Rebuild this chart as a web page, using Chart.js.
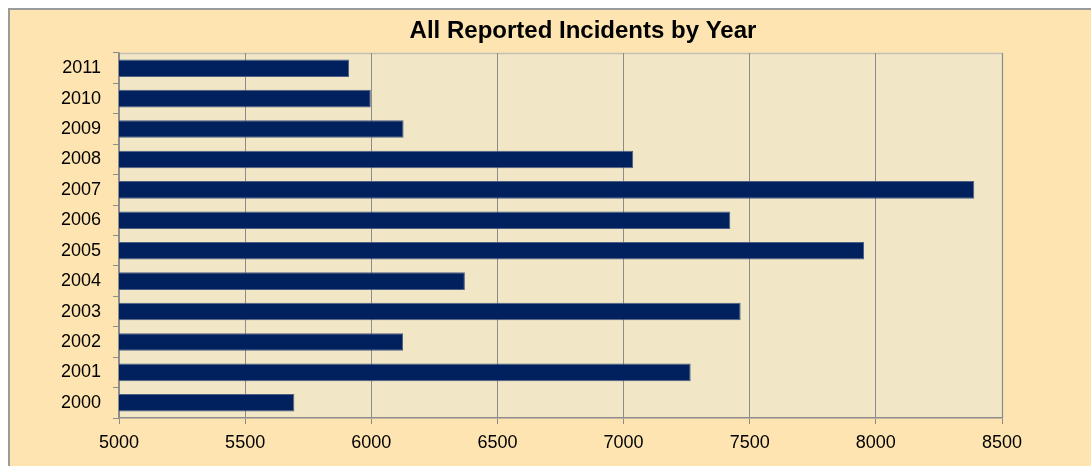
<!DOCTYPE html>
<html>
<head>
<meta charset="utf-8">
<script src="https://cdn.jsdelivr.net/npm/chart.js@4/dist/chart.umd.min.js"></script>
<style>
  html, body { margin: 0; padding: 0; background: #ffffff; overflow: hidden; width: 1091px; height: 466px; }
  #wrap { position: absolute; left: 8px; top: 8px; width: 1148px; height: 470px;
          border-left: 2px solid #9a9a9a; border-top: 2px solid #9a9a9a; background: #FEE4B0; }
  #c { display: block; }
</style>
</head>
<body>
<div id="wrap"><canvas id="c" width="1146" height="456"></canvas></div>
<script>
const categories = ['2011','2010','2009','2008','2007','2006','2005','2004','2003','2002','2001','2000'];
const incidents  = [5912, 5998, 6128, 7038, 8390, 7423, 7953, 6371, 7464, 6126, 7266, 5695];
const xTicks     = [5000, 5500, 6000, 6500, 7000, 7500, 8000, 8500];

const plotBg = {
  id: 'plotBg',
  beforeDraw(chart) {
    const {ctx, chartArea: a} = chart;
    ctx.save();
    ctx.fillStyle = '#F1E6C6';
    ctx.fillRect(a.left, a.top, a.right - a.left, a.bottom - a.top);
    ctx.strokeStyle = '#C4C0B4';
    ctx.lineWidth = 1.5;
    ctx.beginPath();
    ctx.moveTo(a.left, a.top + 0.5);
    ctx.lineTo(a.right + 0.5, a.top + 0.5);
    ctx.lineTo(a.right + 0.5, a.bottom);
    ctx.stroke();
    ctx.restore();
  }
};

new Chart(document.getElementById('c'), {
  type: 'bar',
  data: {
    labels: categories,
    datasets: [{
      data: incidents,
      backgroundColor: '#00215E',
      borderColor: '#4F5F85',
      borderWidth: 1,
      barPercentage: 0.58,
      categoryPercentage: 1.0
    }]
  },
  plugins: [plotBg],
  options: {
    indexAxis: 'y',
    responsive: false,
    animation: false,
    layout: { padding: 0 },
    plugins: {
      legend: { display: false },
      tooltip: { enabled: false },
      title: {
        display: true,
        text: 'All Reported Incidents by Year',
        color: '#000000',
        font: { family: 'Liberation Sans, Arial, sans-serif', size: 24, weight: 'bold', lineHeight: 1.2 },
        padding: { top: 7, bottom: 7.2 }
      }
    },
    scales: {
      x: {
        min: 5000, max: 8500,
        afterBuildTicks(scale) { scale.ticks = xTicks.map(v => ({ value: v })); },
        afterFit(scale) { scale.height = 48; },
        grid: { color: '#8C8C8C', lineWidth: 1, tickLength: 6, drawTicks: true },
        border: { color: '#8C8C8C', width: 1.5 },
        ticks: {
          color: '#000000',
          padding: 8,
          maxRotation: 0,
          callback: (v) => String(v),
          font: { family: 'Liberation Sans, Arial, sans-serif', size: 18 }
        }
      },
      y: {
        offset: true,
        afterFit(scale) { scale.width = 109; },
        grid: { offset: true, drawOnChartArea: false, color: '#8C8C8C', tickLength: 6 },
        border: { color: '#8C8C8C', width: 1.5 },
        ticks: {
          color: '#000000',
          padding: 12,
          font: { family: 'Liberation Sans, Arial, sans-serif', size: 18 }
        }
      },
      spacer: {
        type: 'linear',
        position: 'right',
        afterFit(scale) { scale.width = 154; },
        grid: { display: false, drawTicks: false },
        border: { display: false },
        ticks: { display: false }
      }
    }
  }
});
</script>
</body>
</html>
